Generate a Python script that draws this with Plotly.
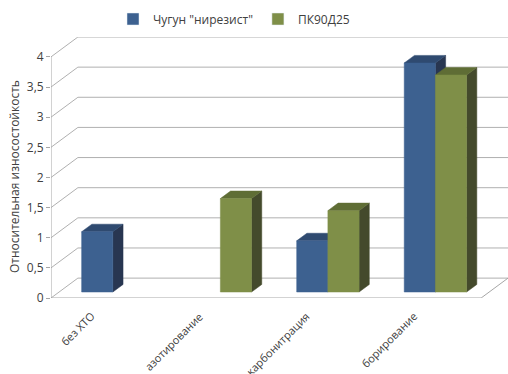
import plotly.graph_objects as go

categories = ["без ХТО", "азотирование", "карбонитрация", "борирование"]
chugun = [1.0, None, 0.85, 3.8]
pk90 = [None, 1.55, 1.35, 3.6]
series_names = ['Чугун "нирезист"', "ПК90Д25"]
y_ticks = [0, 0.5, 1, 1.5, 2, 2.5, 3, 3.5, 4]
y_ticktext = ["0", "0,5", "1", "1,5", "2", "2,5", "3", "3,5", "4"]

# projection of depth (fraction of full depth) into x / y data units
DX, DY = 0.25, 0.33
D0, D1 = 0.3, 0.68          # bar depth extent
BW = 0.29                   # bar width in category units
YMAX = 4.33

colors = [
    dict(front="#3d6190", top="#2f4a70", side="#283651"),
    dict(front="#7f8f48", top="#5f6d35", side="#444a2c"),
]

fig = go.Figure()

def poly(xs, ys, color, width=0, lc=None):
    fig.add_trace(go.Scatter(
        x=xs + [xs[0]] if width == 0 else xs, y=ys + [ys[0]] if width == 0 else ys,
        mode="lines", fill="toself" if width == 0 else None,
        fillcolor=color, line=dict(width=width if width else 0.5, color=lc or color),
        hoverinfo="skip", showlegend=False))

grid_col = "#b0b0b0"
# back wall grid + side diagonals
for v in y_ticks:
    poly([0, DX, 4 + DX], [v, v + DY, v + DY], None, width=1, lc=grid_col)
# floor front edge + right edge
poly([0, 4, 4 + DX], [0, 0, DY], None, width=1, lc="#a6a6a6")
# front axis line
poly([0, 0], [0, 4], None, width=1, lc="#a6a6a6")

ox, oy = D0 * DX, D0 * DY
ddx, ddy = (D1 - D0) * DX, (D1 - D0) * DY
for si, vals in enumerate([chugun, pk90]):
    c = colors[si]
    for ci, v in enumerate(vals):
        if v is None:
            continue
        xl = ci + 0.5 - BW + si * BW + ox
        xr = xl + BW
        yb = oy
        yt = v + oy
        # side
        poly([xr, xr, xr + ddx, xr + ddx], [yb, yt, yt + ddy, yb + ddy], c["side"])
        # top
        poly([xl, xr, xr + ddx, xl + ddx], [yt, yt, yt + ddy, yt + ddy], c["top"])
        # front
        poly([xl, xr, xr, xl], [yb, yb, yt, yt], c["front"])

for si, name in enumerate(series_names):
    fig.add_trace(go.Bar(x=[None], y=[None], name=name,
                         marker=dict(color=colors[si]["front"])))

annots = [dict(text="Относительная износостойкость", textangle=-90,
               xref="paper", yref="paper", x=(14 - 51) / 457, y=(298 - 177) / 261,
               xanchor="center", yanchor="middle",
               showarrow=False, font=dict(size=12, color="#404040"))]
for ci, cat in enumerate(categories):
    annots.append(dict(text=cat, textangle=-45, xref="x", yref="y",
                       x=ci + 0.5, y=0, xanchor="right", yanchor="top",
                       xshift=-4, yshift=-8, showarrow=False,
                       font=dict(size=11, color="#404040")))

font_fam = "Open Sans, Noto Sans, sans-serif"
fig.update_layout(
    width=508, height=374,
    margin=dict(l=51, r=0, t=37, b=76, autoexpand=False),
    paper_bgcolor="white", plot_bgcolor="white",
    font=dict(family=font_fam, size=12, color="#404040"),
    showlegend=True,
    legend=dict(orientation="h", xref="container", yref="container",
                x=113 / 508, y=1 - 19 / 374, xanchor="left", yanchor="middle",
                font=dict(size=12, color="#404040"), itemwidth=30,
                tracegroupgap=0, traceorder="normal"),
    xaxis=dict(range=[0, 4 + DX], showticklabels=False,
               showgrid=False, zeroline=False, showline=False,
               automargin=False, ticks=""),
    yaxis=dict(range=[0, YMAX], tickvals=y_ticks, ticktext=y_ticktext,
               showgrid=False, zeroline=False, showline=False, automargin=False,
               ticks="outside", ticklen=4, tickcolor="#a6a6a6",
               tickfont=dict(size=12, color="#404040")),
    annotations=annots,
)

fig.write_html("out.html")
